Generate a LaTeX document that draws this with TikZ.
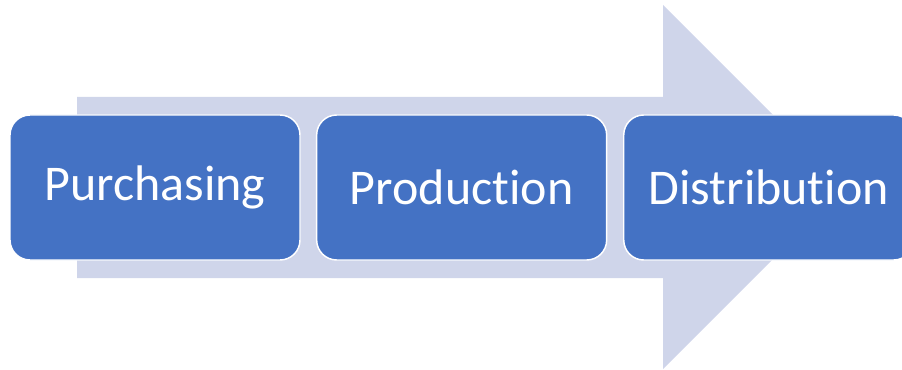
\documentclass[tikz,border=0pt]{standalone}
\usepackage{fontspec}
\setmainfont[Ligatures=NoCommon]{Carlito}
\usetikzlibrary{positioning}
\definecolor{stepblue}{HTML}{4472C4}
\definecolor{arrowgrey}{HTML}{CFD5EA}

\begin{document}
\begin{tikzpicture}[x=0.75pt, y=-0.75pt, stepbox/.style={rectangle, rounded corners=15pt, draw=white, line width=1.1pt, fill=stepblue, text=white, minimum width=217.5pt, minimum height=108.75pt, font=\fontsize{37.5}{40}\selectfont}]

    \clip (0,0) rectangle (902,370);
    \useasboundingbox (0,0) rectangle (902,370);

    %Arrow
    \fill[arrowgrey] (77,97) -- (663,97) -- (663,5) -- (845,187) -- (663,369) -- (663,278) -- (77,278) -- cycle;

    %Nodes
    \node[stepbox](purchasing) at (155,187.5){Purchasing};
    \node[stepbox](production)[right=11.4pt of purchasing]{Production};
    \node[stepbox](distribution)[right=11.7pt of production]{Distribution};

\end{tikzpicture}
\end{document}
